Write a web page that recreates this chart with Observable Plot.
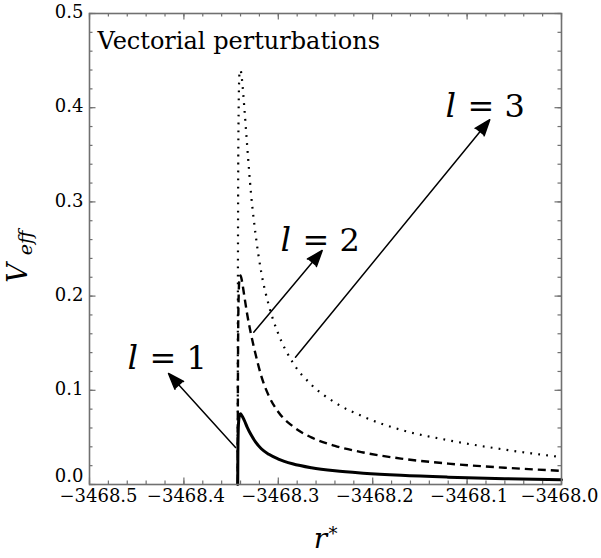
<!DOCTYPE html>
<html>
<head>
<meta charset="utf-8">
<script src="https://cdn.jsdelivr.net/npm/d3@7"></script>
<script src="https://cdn.jsdelivr.net/npm/@observablehq/plot@0.6"></script>
<style>
  body { margin: 0; background: #fff; }
</style>
</head>
<body>
<div id="chart"></div>
<script>
// Tortoise coordinate r* shared by the three potentials
const rStar = [-3468.3430, -3468.3428, -3468.3422, -3468.3412, -3468.3400, -3468.3385,
  -3468.3360, -3468.3330, -3468.3290, -3468.3240, -3468.3180, -3468.3100, -3468.3000,
  -3468.2850, -3468.2650, -3468.2400, -3468.2100, -3468.1700, -3468.1200, -3468.0600, -3468.0000];

// Effective potential V_eff for l = 1, 2, 3
const vL1 = [0, 0.035, 0.064, 0.073, 0.075, 0.073, 0.068, 0.061, 0.053, 0.045, 0.038,
  0.032, 0.027, 0.022, 0.0178, 0.0145, 0.0120, 0.0097, 0.0078, 0.0062, 0.0050];
const vL2 = [0, 0.10, 0.19, 0.218, 0.222, 0.216, 0.200, 0.181, 0.160, 0.138, 0.115,
  0.094, 0.077, 0.062, 0.050, 0.041, 0.034, 0.0275, 0.0222, 0.0178, 0.0145];
const vL3 = [0, 0.20, 0.38, 0.435, 0.44, 0.43, 0.40, 0.36, 0.31, 0.265, 0.225,
  0.19, 0.16, 0.13, 0.106, 0.087, 0.072, 0.058, 0.047, 0.037, 0.029];

// Axis ticks
const xTicks = [-3468.5, -3468.4, -3468.3, -3468.2, -3468.1, -3468.0];
const yTicks = [0, 0.1, 0.2, 0.3, 0.4, 0.5];

// Annotations: multipole labels and their arrows (tail on the curve, head at the label)
const labelL = [1, 2, 3];
const labelR = [-3468.4597, -3468.2977, -3468.1229];
const labelV = [0.1231, 0.2484, 0.3896];
const arrowTailR = [-3468.3453, -3468.3260, -3468.2818];
const arrowTailV = [0.0393, 0.1617, 0.1351];
const arrowHeadR = [-3468.4163, -3468.2535, -3468.0760];
const arrowHeadV = [0.1178, 0.2484, 0.3872];

const title = "Vectorial perturbations";

// Layout
const width = 601, height = 558;
const mTop = 13, mRight = 40, mBottom = 74, mLeft = 89;
const innerW = width - mLeft - mRight, innerH = height - mTop - mBottom;
const frameGray = "#707070";
const serif = "DejaVu Serif";

const series = (v) => rStar.map((r, i) => ({r, v: v[i]}));
const labels = labelL.map((l, i) => ({l, r: labelR[i], v: labelV[i]}));
const arrows = labelL.map((l, i) => ({
  r1: arrowTailR[i], v1: arrowTailV[i], r2: arrowHeadR[i], v2: arrowHeadV[i]
}));

// Minor ticks every 0.02 in both directions
const xMinor = d3.range(0, 26).map(i => -3468.5 + i * 0.02);
const yMinor = d3.range(0, 26).map(i => i * 0.02);
const majorLen = 6.5, minorLen = 3.5;

const fmtX = d => "\u2212" + Math.abs(d).toFixed(1);
const fmtY = d => d.toFixed(1);
const axisFont = {fontSize: 18, fontFamily: serif, tickSize: 0, label: null};

const plot = Plot.plot({
  width, height,
  marginTop: mTop, marginRight: mRight, marginBottom: mBottom, marginLeft: mLeft,
  style: {fontFamily: serif, background: "#fff", color: "#000"},
  x: {domain: [-3468.5, -3468.0], axis: null},
  y: {domain: [0, 0.5], axis: null},
  marks: [
    // inward frame ticks on all four sides
    Plot.tickX(xMinor, {x: d => d, stroke: frameGray, strokeWidth: 1.2, insetTop: innerH - minorLen}),
    Plot.tickX(xMinor, {x: d => d, stroke: frameGray, strokeWidth: 1.2, insetBottom: innerH - minorLen}),
    Plot.tickX(xTicks, {x: d => d, stroke: frameGray, strokeWidth: 1.2, insetTop: innerH - majorLen}),
    Plot.tickX(xTicks, {x: d => d, stroke: frameGray, strokeWidth: 1.2, insetBottom: innerH - majorLen}),
    Plot.tickY(yMinor, {y: d => d, stroke: frameGray, strokeWidth: 1.2, insetRight: innerW - minorLen}),
    Plot.tickY(yMinor, {y: d => d, stroke: frameGray, strokeWidth: 1.2, insetLeft: innerW - minorLen}),
    Plot.tickY(yTicks, {y: d => d, stroke: frameGray, strokeWidth: 1.2, insetRight: innerW - majorLen}),
    Plot.tickY(yTicks, {y: d => d, stroke: frameGray, strokeWidth: 1.2, insetLeft: innerW - majorLen}),

    // tick labels; the corner labels are nudged apart
    Plot.axisX({...axisFont, ticks: xTicks.slice(0, 1), tickFormat: fmtX, tickPadding: 5, dx: 9}),
    Plot.axisX({...axisFont, ticks: xTicks.slice(1, 5), tickFormat: fmtX, tickPadding: 5, dx: 2}),
    Plot.axisX({...axisFont, ticks: xTicks.slice(5), tickFormat: fmtX, tickPadding: 5, dx: -2}),
    Plot.axisY({...axisFont, ticks: yTicks.slice(0, 1), tickFormat: fmtY, tickPadding: 6, dy: -8}),
    Plot.axisY({...axisFont, ticks: yTicks.slice(1), tickFormat: fmtY, tickPadding: 6, dy: -1}),

    // potentials
    Plot.line(series(vL3), {x: "r", y: "v", curve: "monotone-x", stroke: "#000", strokeWidth: 2.2,
      strokeDasharray: "1.8,6.2", strokeLinecap: "butt"}),
    Plot.line(series(vL2), {x: "r", y: "v", curve: "monotone-x", stroke: "#000", strokeWidth: 2.4,
      strokeDasharray: "8,5", strokeLinecap: "butt"}),
    Plot.line(series(vL1), {x: "r", y: "v", curve: "monotone-x", stroke: "#000", strokeWidth: 3}),

    // arrows pointing from the curves to their labels
    Plot.arrow(arrows, {x1: "r1", y1: "v1", x2: "r2", y2: "v2", stroke: "#000", fill: "#000",
      strokeWidth: 1.5, headLength: 17, headAngle: 40}),

    // labels l = 1, 2, 3
    Plot.text(labels, {x: "r", y: "v", text: () => "l", fontStyle: "italic", fontSize: 33,
      fontFamily: serif, textAnchor: "start", lineAnchor: "bottom"}),
    Plot.text(labels, {x: "r", y: "v", text: d => "= " + d.l, dx: 22, fontSize: 32,
      fontFamily: serif, textAnchor: "start", lineAnchor: "bottom"}),

    // panel title
    Plot.text([title], {frameAnchor: "top-left", text: d => d, dx: 8, dy: 35, fontSize: 24,
      fontFamily: serif, textAnchor: "start", lineAnchor: "bottom", letterSpacing: -0.7}),

    // axis titles: V_eff and r*
    Plot.text(["V"], {frameAnchor: "left", text: d => d, dx: -63, dy: 24, rotate: -90,
      fontFamily: serif, fontStyle: "italic", fontSize: 27, textAnchor: "middle", lineAnchor: "bottom"}),
    Plot.text(["eff"], {frameAnchor: "left", text: d => d, dx: -58, dy: -6, rotate: -90,
      fontFamily: serif, fontStyle: "italic", fontSize: 19, textAnchor: "middle", lineAnchor: "bottom",
      letterSpacing: 1}),
    Plot.text(["r"], {frameAnchor: "bottom", text: d => d, dx: -5, dy: 63,
      fontFamily: serif, fontStyle: "italic", fontSize: 28, textAnchor: "middle", lineAnchor: "bottom"}),
    Plot.text(["*"], {frameAnchor: "bottom", text: d => d, dx: 3, dy: 55,
      fontFamily: serif, fontSize: 18, textAnchor: "start", lineAnchor: "bottom"}),

    Plot.frame({stroke: frameGray, strokeWidth: 1.6})
  ]
});

document.getElementById("chart").appendChild(plot);
</script>
</body>
</html>
